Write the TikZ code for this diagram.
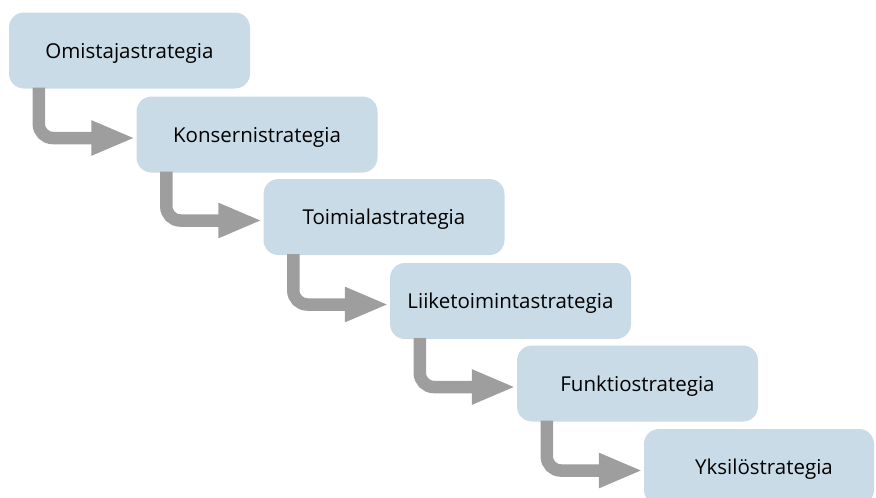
\documentclass[tikz,border=0pt]{standalone}
\usepackage{fontspec}
\setmainfont{Open Sans}
\usetikzlibrary{arrows.meta,calc}
\definecolor{boxblue}{RGB}{201,219,230}
\definecolor{flowgray}{RGB}{158,158,158}
\tikzset{
  stagefont/.style={font=\fontsize{20.5}{24}\selectfont, text depth=0pt},
  stage/.style={fill=boxblue, rounded corners=15pt, minimum width=241pt,
    minimum height=76pt, inner sep=0pt, stagefont},
  flow/.style={draw=flowgray, line width=12.5pt, rounded corners=14pt,
    -{Triangle[length=44pt,width=32pt]}}
}
\begin{document}
\begin{tikzpicture}[x=1pt,y=-1pt]
  \useasboundingbox (0,0) rectangle (876,498);
  \clip (0,0) rectangle (876,498);
  % strategy levels, stepping down to the right
  \node[stage] (s1) at (129.5,50.5) {Omistajastrategia};
  \node[stage] (s2) at (257,134.5) {Konsernistrategia};
  \node[stage] (s3) at (384,217) {Toimialastrategia};
  \node[stage] (s4) at (510.5,301) {Liiketoimintastrategia};
  \node[stage] (s5) at (637.5,383.5) {Funktiostrategia};
  \node[stage, minimum width=230pt] (s6) at (759,467) {};
  \node[stagefont] (t6) at (764,467) {Yksilöstrategia};
  % elbow arrows from each level to the next
  \foreach \a/\b in {s1/s2,s2/s3,s3/s4,s4/s5,s5/s6}{
    \draw[flow] ($(\a.south west)+(30,-1)$) |- ($(\b.west)+(-1,3.5)$);
  }
\end{tikzpicture}
\end{document}
